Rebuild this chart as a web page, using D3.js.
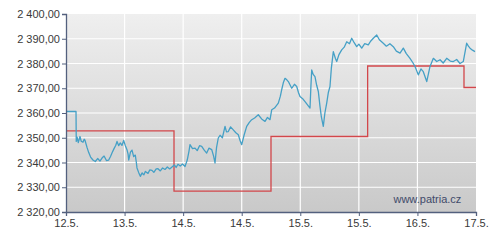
<!DOCTYPE html>
<html>
  <head>
    <style>
      body { margin: 0; background: #fff; }
      svg text { font-family: "Liberation Sans", Arial, sans-serif; }
    </style>
  </head>
  <body>
    <svg></svg>
    <script src="https://d3js.org/d3.v7.min.js"></script>
    <script>
      // x positions are in days from the first tick (12.5.)
      var tickLabels = ["12.5.", "13.5.", "14.5.", "14.5.", "15.5.", "15.5.", "16.5.", "17.5."]
      var yTicks = [2320, 2330, 2340, 2350, 2360, 2370, 2380, 2390, 2400]

      var priceDays = [0, 0.171, 0.175, 0.19, 0.21, 0.239, 0.26, 0.29, 0.31, 0.324, 0.36, 0.388, 0.42, 0.46, 0.5, 0.54, 0.58, 0.615, 0.65, 0.69, 0.729, 0.76, 0.785, 0.82, 0.85, 0.871, 0.9, 0.927, 0.955, 0.985, 1.01, 1.041, 1.06, 1.071, 1.1, 1.127, 1.155, 1.183, 1.2, 1.212, 1.24, 1.269, 1.3, 1.33, 1.354, 1.4, 1.43, 1.468, 1.5, 1.54, 1.571, 1.61, 1.65, 1.69, 1.73, 1.77, 1.81, 1.85, 1.88, 1.912, 1.95, 1.99, 2.032, 2.07, 2.1, 2.117, 2.16, 2.203, 2.24, 2.28, 2.317, 2.36, 2.402, 2.44, 2.488, 2.52, 2.544, 2.57, 2.6, 2.63, 2.67, 2.715, 2.74, 2.771, 2.81, 2.856, 2.9, 2.942, 2.97, 3.0, 3.04, 3.085, 3.13, 3.171, 3.22, 3.283, 3.34, 3.398, 3.44, 3.483, 3.512, 3.56, 3.625, 3.66, 3.683, 3.71, 3.739, 3.77, 3.796, 3.854, 3.9, 3.939, 3.97, 3.995, 4.04, 4.081, 4.12, 4.166, 4.18, 4.195, 4.22, 4.251, 4.28, 4.308, 4.337, 4.36, 4.393, 4.42, 4.451, 4.48, 4.507, 4.53, 4.564, 4.6, 4.622, 4.66, 4.707, 4.75, 4.793, 4.84, 4.878, 4.92, 4.963, 5.0, 5.049, 5.1, 5.161, 5.2, 5.247, 5.305, 5.35, 5.417, 5.47, 5.53, 5.588, 5.64, 5.703, 5.759, 5.81, 5.873, 5.92, 5.959, 6.015, 6.06, 6.1, 6.159, 6.215, 6.272, 6.33, 6.386, 6.44, 6.5, 6.56, 6.613, 6.67, 6.727, 6.783, 6.8, 6.841, 6.87, 6.898, 6.94, 6.983]
      var priceValues = [2360.6, 2360.6, 2348.5, 2350.2, 2348.0, 2350.5, 2348.6, 2348.2, 2349.4, 2349.0, 2346.0, 2344.0, 2342.2, 2341.0, 2340.4, 2341.6, 2340.6, 2341.8, 2342.6, 2340.8, 2341.0, 2342.4, 2343.8, 2345.6, 2347.0, 2348.5, 2346.8, 2347.9, 2346.9, 2348.9, 2347.0, 2345.2, 2343.4, 2341.0, 2344.2, 2345.0, 2342.4, 2343.0, 2340.2, 2337.8, 2336.0, 2334.4, 2335.8, 2335.0, 2336.4, 2335.6, 2337.0, 2336.8, 2336.0, 2337.4, 2337.5, 2336.6, 2337.8, 2337.2, 2338.2, 2337.4, 2338.2, 2339.0, 2338.0, 2339.3, 2338.6, 2339.4, 2338.4, 2341.0, 2344.6, 2347.2, 2345.6, 2345.8, 2344.8, 2346.8, 2346.5, 2345.0, 2343.8, 2345.8, 2345.2, 2342.6, 2339.8, 2346.0, 2349.9, 2351.0, 2350.0, 2354.6, 2352.4, 2352.5, 2354.4, 2353.2, 2352.0, 2351.2, 2349.0, 2347.2, 2351.0, 2354.6, 2356.2, 2357.3, 2358.0, 2359.3, 2357.6, 2356.6, 2358.2, 2357.3, 2361.3, 2362.0, 2364.0, 2366.8, 2369.4, 2372.2, 2374.0, 2373.4, 2372.7, 2370.0, 2371.6, 2370.7, 2368.2, 2366.7, 2365.8, 2364.6, 2363.4, 2362.0, 2370.0, 2377.4, 2375.6, 2374.7, 2371.2, 2368.7, 2362.6, 2358.4, 2354.6, 2360.0, 2364.0, 2368.4, 2370.7, 2378.0, 2384.8, 2382.0, 2380.8, 2383.6, 2385.5, 2386.6, 2388.8, 2388.0, 2390.2, 2388.4, 2386.8, 2387.8, 2386.2, 2388.0, 2387.5, 2389.0, 2390.2, 2391.5, 2389.6, 2388.2, 2387.0, 2388.0, 2386.8, 2385.0, 2384.2, 2386.2, 2384.0, 2382.1, 2380.4, 2378.8, 2375.4, 2377.8, 2376.7, 2372.7, 2378.8, 2382.1, 2380.8, 2381.5, 2380.2, 2382.1, 2381.0, 2380.8, 2381.6, 2380.0, 2380.8, 2383.0, 2388.2, 2387.0, 2386.2, 2385.4, 2384.8]

      var stepDays = [0, 1.844, 3.5, 5.15, 6.795, 7]
      var stepValues = [2352.8, 2328.4, 2350.5, 2379.0, 2370.3, 2370.3]

      var svgWidth = 500, svgHeight = 246
      var margin = { top: 14, right: 24, bottom: 34, left: 66 }
      var width = svgWidth - margin.left - margin.right
      var height = svgHeight - margin.top - margin.bottom

      var svg = d3.select("svg")
        .attr("width", svgWidth)
        .attr("height", svgHeight)

      var defs = svg.append("defs")
      var grad = defs.append("linearGradient")
        .attr("id", "bg").attr("x1", 0).attr("y1", 0).attr("x2", 0).attr("y2", 1)
      grad.append("stop").attr("offset", "0%").attr("stop-color", "#efefef")
      grad.append("stop").attr("offset", "100%").attr("stop-color", "#c9c9c9")

      var g = svg.append("g")
        .attr("transform", "translate(" + margin.left + "," + margin.top + ")")

      var x = d3.scaleLinear().domain([0, 7]).range([0, width])
      var y = d3.scaleLinear().domain([2320, 2400]).range([height, 0])

      var locale = d3.formatLocale({ decimal: ",", thousands: " ", grouping: [3], currency: ["", ""] })
      var fmt = locale.format(",.2f")

      g.append("rect")
        .attr("width", width).attr("height", height)
        .attr("fill", "url(#bg)")

      // grid
      g.selectAll(".hgrid").data(yTicks.slice(1, -1)).enter().append("line")
        .attr("x1", 0).attr("x2", width)
        .attr("y1", d => y(d)).attr("y2", d => y(d))
        .attr("stroke", "#fff").attr("stroke-width", 1.2)

      g.selectAll(".vgrid").data(d3.range(1, 7)).enter().append("line")
        .attr("y1", 0).attr("y2", height)
        .attr("x1", d => x(d)).attr("x2", d => x(d))
        .attr("stroke", "#fff").attr("stroke-width", 1.2)

      // red step line
      var step = d3.line()
        .x((d, i) => x(stepDays[i]))
        .y(d => y(d))
        .curve(d3.curveStepAfter)

      g.append("path")
        .attr("d", step(stepValues))
        .attr("fill", "none")
        .attr("stroke", "#d2474b")
        .attr("stroke-width", 1.3)

      // blue price line
      var line = d3.line()
        .x((d, i) => x(priceDays[i]))
        .y(d => y(d))

      g.append("path")
        .attr("d", line(priceValues))
        .attr("fill", "none")
        .attr("stroke", "#45a0c6")
        .attr("stroke-width", 1.3)
        .attr("stroke-linejoin", "round")

      // axes
      var yAxis = g.append("g")
        .call(d3.axisLeft(y).tickValues(yTicks).tickFormat(fmt).tickSize(4).tickPadding(2))
      yAxis.select(".domain").attr("stroke", "#53607e").attr("stroke-width", 1.3)
      yAxis.selectAll(".tick line").attr("stroke", "#53607e")
      yAxis.selectAll("text").attr("font-size", 11).attr("fill", "#3a3a3a")
        .style("font-family", "'Liberation Sans', Arial, sans-serif")

      var xAxis = g.append("g")
        .attr("transform", "translate(0," + height + ")")
        .call(d3.axisBottom(x).tickValues(d3.range(0, 8)).tickFormat(d => tickLabels[d]).tickSize(4).tickPadding(3))
      xAxis.select(".domain").attr("stroke", "#53607e").attr("stroke-width", 1.3)
      xAxis.selectAll(".tick line").attr("stroke", "#53607e")
      xAxis.selectAll("text").attr("font-size", 11).attr("fill", "#3a3a3a")
        .style("font-family", "'Liberation Sans', Arial, sans-serif")

      g.append("text")
        .attr("x", x(6.75)).attr("y", height - 9)
        .attr("text-anchor", "end")
        .attr("font-size", 11)
        .attr("fill", "#3f4a6a")
        .text("www.patria.cz")
    </script>
  </body>
</html>
